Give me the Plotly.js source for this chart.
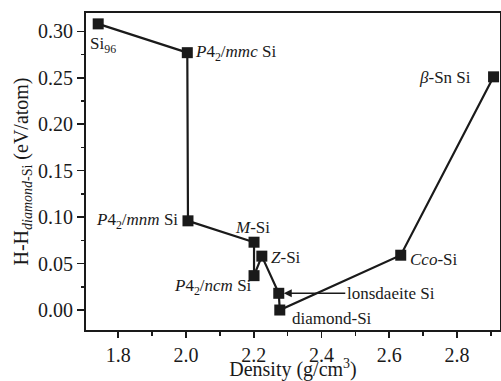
<!DOCTYPE html>
<html>
<head>
<meta charset="utf-8">
<script src="https://cdn.plot.ly/plotly-3.0.1.min.js"></script>
<style>html,body{margin:0;padding:0;background:#fff;}#chart{width:501px;height:381px;}</style>
</head>
<body>
<div id="chart"></div>
<script>
// Phases in the order the line connects them
const phases = ["Si96", "P42/mmc Si", "P42/mnm Si", "M-Si", "P42/ncm Si", "Z-Si", "lonsdaeite Si", "diamond-Si", "Cco-Si", "beta-Sn Si"];
const density = [1.741, 2.004, 2.006, 2.201, 2.201, 2.224, 2.274, 2.277, 2.634, 2.908];
const enthalpy = [0.308, 0.277, 0.096, 0.073, 0.037, 0.058, 0.018, 0.000, 0.059, 0.251];
const labels = ["Si<sub>96</sub>", "<i>P</i>4<sub>2</sub>/<i>mmc</i> Si", "<i>P</i>4<sub>2</sub>/<i>mnm</i> Si", "<i>M</i>-Si", "<i>P</i>4<sub>2</sub>/<i>ncm</i> Si", "<i>Z</i>-Si", "lonsdaeite Si", "diamond-Si", "<i>Cco</i>-Si", "<i>β</i>-Sn Si"];

// label placement styles (offsets in pixels)
const place = [
  {xanchor:"left", xshift:-10, yshift:-21},
  {xanchor:"left", xshift:6, yshift:0},
  {xanchor:"right", xshift:-8, yshift:0},
  {xanchor:"center", xshift:-2, yshift:15},
  {xanchor:"right", xshift:0, yshift:-11},
  {xanchor:"left", xshift:7, yshift:-1},
  null,
  {xanchor:"left", xshift:10, yshift:-8},
  {xanchor:"left", xshift:7, yshift:-4},
  {xanchor:"right", xshift:-21, yshift:-1}
];

const ink = "#1a1a1a";
const serif = "Liberation Serif, Times New Roman, serif";
const annotations = [];
labels.forEach((t, i) => {
  const p = place[i];
  if (p) {
    annotations.push({x: density[i], y: enthalpy[i], xref:"x", yref:"y", text: t, showarrow:false,
      xanchor: p.xanchor, yanchor:"middle", xshift: p.xshift, yshift: p.yshift,
      font:{family:serif, size:17, color:ink}});
  } else {
    annotations.push({x: density[i], y: enthalpy[i], xref:"x", yref:"y", text: t, showarrow:true,
      ax: 112, ay: 0, axref:"pixel", arrowhead:2, arrowsize:1, arrowwidth:1.6, arrowcolor:ink, standoff:5,
      xanchor:"center", yanchor:"middle",
      font:{family:serif, size:17, color:ink}});
  }
});

const trace = {
  x: density, y: enthalpy, type:"scatter", mode:"lines+markers",
  line:{color:ink, width:2.2},
  marker:{symbol:"square", size:11, color:ink},
  hoverinfo:"skip"
};

const axisFont = {family:serif, size:20, color:ink};
const layout = {
  width:501, height:381,
  margin:{l:86, r:1, t:13, b:51},
  paper_bgcolor:"#fff", plot_bgcolor:"#fff",
  showlegend:false,
  xaxis:{
    range:[1.705, 2.927], tickvals:[1.8,2.0,2.2,2.4,2.6,2.8], ticktext:["1.8","2.0","2.2","2.4","2.6","2.8"],
    ticks:"outside", ticklen:6, tickwidth:1.6, tickcolor:ink,
    minor:{dtick:0.1, tick0:1.7, ticks:"outside", ticklen:3.5, tickwidth:1.4, tickcolor:ink},
    showline:true, linewidth:2, linecolor:ink, mirror:true, showgrid:false, zeroline:false,
    tickfont:axisFont,
    title:{text:"Density (g/cm<sup>3</sup>)", font:axisFont, standoff:0}
  },
  yaxis:{
    range:[-0.0215, 0.3197], tickvals:[0,0.05,0.10,0.15,0.20,0.25,0.30],
    ticktext:["0.00","0.05","0.10","0.15","0.20","0.25","0.30"],
    ticks:"outside", ticklen:7, tickwidth:1.6, tickcolor:ink,
    minor:{dtick:0.025, tick0:0, ticks:"outside", ticklen:3.5, tickwidth:1.4, tickcolor:ink},
    showline:true, linewidth:2, linecolor:ink, mirror:true, showgrid:false, zeroline:false,
    tickfont:axisFont,
    title:{text:"H-H<sub><i>diamond</i>-Si</sub> (eV/atom)", font:axisFont, standoff:4}
  },
  annotations: annotations
};

Plotly.newPlot("chart", [trace], layout, {displayModeBar:false, staticPlot:true});
</script>
</body>
</html>
